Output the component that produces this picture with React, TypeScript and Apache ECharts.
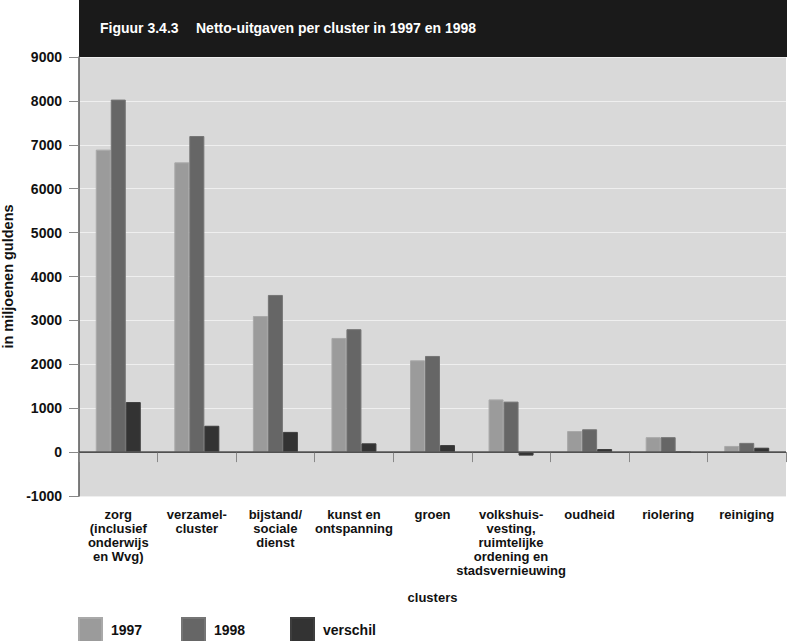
import React, { useEffect, useRef } from "react";
import * as echarts from "echarts";

const categories = [
  "zorg\n(inclusief\nonderwijs\nen Wvg)",
  "verzamel-\ncluster",
  "bijstand/\nsociale\ndienst",
  "kunst en\nontspanning",
  "groen",
  "volkshuis-\nvesting,\nruimtelijke\nordening en\nstadsvernieuwing",
  "oudheid",
  "riolering",
  "reiniging",
];
const values1997 = [6890, 6600, 3100, 2600, 2090, 1200, 480, 340, 140];
const values1998 = [8030, 7200, 3580, 2800, 2190, 1150, 520, 340, 210];
const valuesVerschil = [1140, 600, 460, 200, 160, -80, 70, 0, 100];
const seriesNames = ["1997", "1998", "verschil"];
const titleNumber = "Figuur 3.4.3";
const titleText = "Netto-uitgaven per cluster in 1997 en 1998";

const FONT = "'Liberation Sans', Arial, sans-serif";

export default function App() {
  const ref = useRef<HTMLDivElement>(null);
  useEffect(() => {
    if (!ref.current) return;
    const chart = echarts.init(ref.current, undefined, { renderer: "svg" });
    const colors = ["#9b9b9b", "#666666", "#333333"];
    const borders = ["#a9a9a9", "#757575", "#3e3e3e"];
    const datas = [values1997, values1998, valuesVerschil];
    const legendLefts = [78, 181, 290];
    chart.setOption({
      animation: false,
      backgroundColor: "#ffffff",
      textStyle: { fontFamily: FONT },
      grid: {
        left: 79,
        right: 1,
        top: 57,
        bottom: 145,
        containLabel: false,
        outerBoundsMode: "none",
        show: true,
        backgroundColor: "#d9d9d9",
        borderWidth: 0,
      },
      graphic: [
        { type: "rect", left: 79, top: 0, shape: { width: 708, height: 57 }, style: { fill: "#1a1a1a" }, z: -1 },
        { type: "text", x: 100, y: 28, style: { text: titleNumber, fill: "#ffffff", font: `bold 14px ${FONT}`, textVerticalAlign: "middle" } },
        { type: "text", x: 196, y: 28, style: { text: titleText, fill: "#ffffff", font: `bold 14px ${FONT}`, textVerticalAlign: "middle" } },
      ],
      legend: seriesNames.map((n, i) => ({
        data: [n],
        left: legendLefts[i],
        top: 617,
        padding: 0,
        itemWidth: 23,
        itemHeight: 24,
        icon: "rect",
        textStyle: { fontFamily: FONT, fontWeight: "bold", fontSize: 14, color: "#111", padding: [3, 0, 0, 4] },
      })),
      xAxis: {
        type: "category",
        data: categories,
        name: "clusters",
        nameLocation: "middle",
        nameGap: 95,
        nameTextStyle: { fontFamily: FONT, fontWeight: "bold", fontSize: 13, color: "#111" },
        axisLine: { lineStyle: { color: "#444", width: 1 } },
        axisTick: { show: true, length: 10, lineStyle: { color: "#888" } },
        axisLabel: { interval: 0, margin: 12, fontFamily: FONT, fontWeight: "bold", fontSize: 13, lineHeight: 13.8, color: "#111", align: "center" },
      },
      yAxis: {
        type: "value",
        min: -1000,
        max: 9000,
        interval: 1000,
        name: "in miljoenen guldens",
        nameLocation: "middle",
        nameGap: 60,
        nameTextStyle: { fontFamily: FONT, fontWeight: "bold", fontSize: 14.5, color: "#111" },
        axisLine: { show: true, lineStyle: { color: "#555", width: 1.5 } },
        axisTick: { show: true, length: 10, lineStyle: { color: "#888" } },
        axisLabel: {
          margin: 17,
          fontFamily: FONT,
          fontWeight: "bold",
          fontSize: 14,
          color: "#111",
          formatter: (v: number) => String(v),
        },
        splitLine: { show: true, lineStyle: { color: "#efefef", width: 1.2 } },
      },
      series: seriesNames.map((n, i) => ({
        name: n,
        type: "bar",
        data: datas[i],
        barWidth: 15,
        barGap: "0%",
        itemStyle: { color: colors[i], borderColor: borders[i], borderWidth: 1 },
        ...(i === 2
          ? {
              markLine: {
                silent: true,
                symbol: "none",
                label: { show: false },
                lineStyle: { color: "#555", width: 1.5, type: "solid" },
                data: [{ yAxis: 0 }],
              },
            }
          : {}),
      })),
    });
    return () => chart.dispose();
  }, []);
  return <div ref={ref} style={{ width: 787, height: 641, position: "absolute", left: 0, top: 0 }} />;
}
